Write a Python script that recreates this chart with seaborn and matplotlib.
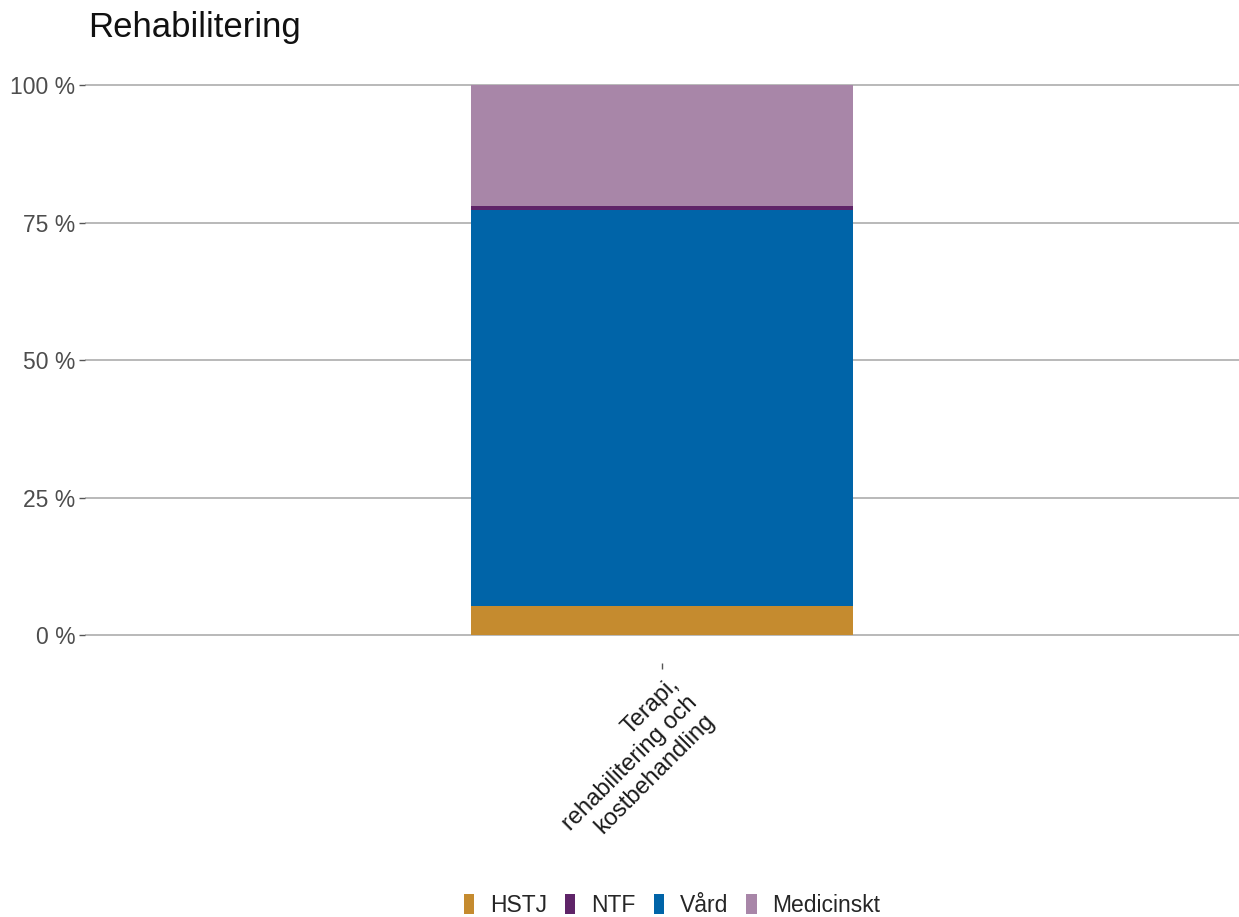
import matplotlib
matplotlib.use("Agg")
import matplotlib.pyplot as plt
from matplotlib.patches import Patch
from matplotlib.ticker import FuncFormatter
from matplotlib.transforms import offset_copy
import seaborn as sns
import pandas as pd
import numpy as np

# Data
categories = ["Terapi,\nrehabilitering och\nkostbehandling"]
series = ["HSTJ", "NTF", "Vård", "Medicinskt"]
hstj = [5.2]
ntf = [0.7]
vard = [72.1]
medicinskt = [22.0]
colors = {"HSTJ": "#C58B2F", "NTF": "#5F2468", "Vård": "#0064A8", "Medicinskt": "#A886A8"}
stack_order = ["HSTJ", "Vård", "NTF", "Medicinskt"]  # bottom to top

sns.set_style("white")
plt.rcParams['font.family'] = ['Liberation Sans', 'DejaVu Sans']

vals = {"HSTJ": hstj, "NTF": ntf, "Vård": vard, "Medicinskt": medicinskt}
cum = np.cumsum(np.array([vals[s] for s in stack_order]), axis=0)

fig = plt.figure(figsize=(12.39, 9.17), dpi=100)
ax = fig.add_axes([0.0686, 0.2775, 0.9314, 0.6595])

# draw from top layer down so lower layers overlay
for i in reversed(range(len(stack_order))):
    df = pd.DataFrame({"cat": categories, "val": cum[i] / 100.0})
    sns.barplot(data=df, x="cat", y="val", color=colors[stack_order[i]], width=0.9,
                linewidth=0, saturation=1, ax=ax, errorbar=None)

ax.set_ylim(-0.05, 1.05)
ax.set_xlim(-1.356, 1.356)
ax.set_yticks([0, 0.25, 0.5, 0.75, 1.0])
ax.yaxis.set_major_formatter(FuncFormatter(lambda v, p: f"{int(round(v*100))} %"))
ax.grid(axis='y', color='#adadad', linewidth=1.2)
ax.set_axisbelow(True)
for s in ax.spines.values():
    s.set_visible(False)
ax.set_xlabel("")
ax.set_ylabel("")

ax.tick_params(axis='y', which='major', length=4, width=1, color='#555555',
               labelsize=16.5, labelcolor='#4d4d4d', pad=3, left=True)
ax.tick_params(axis='x', which='major', length=4, width=1, color='#555555',
               labelsize=17, labelcolor='#1a1a1a', pad=4, bottom=True)
for lab in ax.get_xticklabels():
    lab.set_rotation(45)
    lab.set_ha('right')
    lab.set_va('top')
    lab.set_rotation_mode('anchor')
    lab.set_multialignment('right')
    lab.set_transform(offset_copy(lab.get_transform(), fig=fig, x=6, y=0, units='dots'))

fig.text(88 / 1239, 1 - 28 / 917, "Rehabilitering", fontsize=25, color='#111111',
         ha='left', va='center')

handles = [Patch(facecolor=colors[s], edgecolor='none', label=s) for s in series]
fig.legend(handles=handles, loc='center', bbox_to_anchor=(672 / 1239, 12 / 917),
           ncol=4, frameon=False, fontsize=16.5, handlelength=0.45, handleheight=0.95,
           handletextpad=0.68, columnspacing=0.8, borderpad=0, borderaxespad=0)

fig.savefig("out.png", dpi=100)
